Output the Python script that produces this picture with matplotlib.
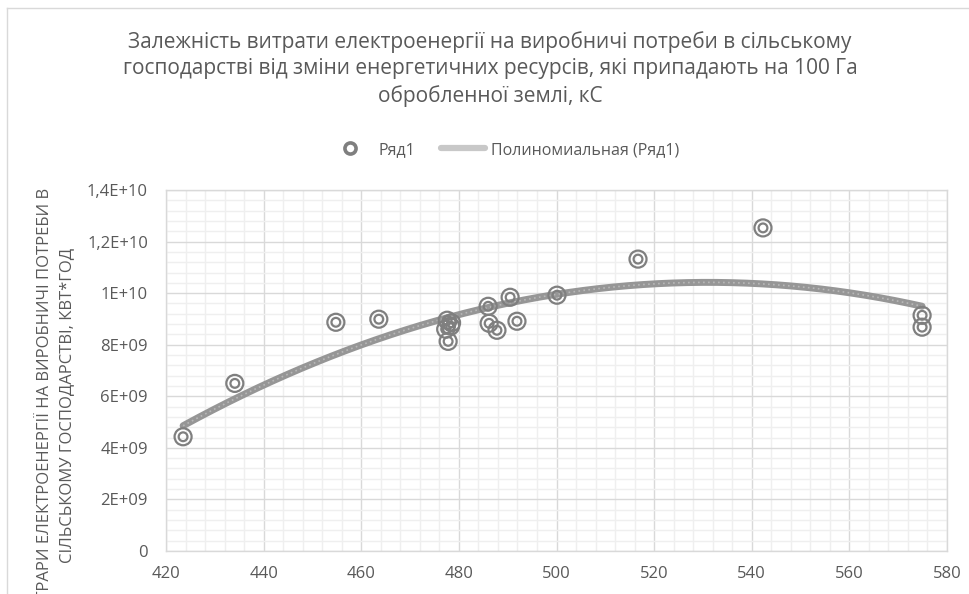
import numpy as np
import matplotlib
matplotlib.use("Agg")
import matplotlib.pyplot as plt
from matplotlib.lines import Line2D
from matplotlib.ticker import MultipleLocator, FixedLocator, FixedFormatter

plt.rcParams['font.family'] = ['Open Sans', 'DejaVu Sans']

# ---- data ----
x_vals = [423.5, 434.1, 454.8, 463.6, 477.3, 477.8, 477.6, 478.3, 478.5,
          486.0, 486.2, 487.8, 490.5, 491.9, 500.1, 516.7, 542.3, 574.9, 574.9]
y_vals = [4.43e9, 6.50e9, 8.87e9, 8.99e9, 8.60e9, 8.13e9, 8.95e9, 8.72e9, 8.85e9,
          9.49e9, 8.83e9, 8.56e9, 9.84e9, 8.91e9, 9.92e9, 11.32e9, 12.53e9, 9.14e9, 8.68e9]

y_ticks = [0, 2e9, 4e9, 6e9, 8e9, 1e10, 1.2e10, 1.4e10]
y_tick_labels = ["0", "2E+09", "4E+09", "6E+09", "8E+09", "1E+10", "1,2E+10", "1,4E+10"]
x_ticks = [420, 440, 460, 480, 500, 520, 540, 560, 580]

title = ("Залежність витрати електроенергії на виробничі потреби в сільському\n"
         "господарстві від зміни енергетичних ресурсів, які припадають на 100 Га\n"
         "обробленної землі, кС")
ylabel = ("ВИТРАРИ ЕЛЕКТРОЕНЕРГІЇ НА ВИРОБНИЧІ ПОТРЕБИ В\n"
          "СІЛЬСЬКОМУ ГОСПОДАРСТВІ, КВТ*ГОД")
series_name = "Ряд1"
trend_name = "Полиномиальная (Ряд1)"

W, H = 970, 594
fig = plt.figure(figsize=(W / 100, H / 100), dpi=100)
fig.patch.set_facecolor('white')

ax = fig.add_axes([166 / W, 1 - 551 / H, (947 - 166) / W, (551 - 190) / H])

txt_col = '#595959'
mk_col = '#7f7f7f'

# polynomial trendline (2nd order)
xa = np.array(x_vals)
ya = np.array(y_vals)
coef = np.polyfit(xa, ya, 2)
xs = np.linspace(xa.min(), xa.max(), 300)
ys = np.polyval(coef, xs)
ax.plot(xs, ys, color='#969696', lw=5, solid_capstyle='round', zorder=3)
ax.plot(xs, ys, color='#b8b8b8', lw=1.2, ls=(0, (1, 2)), zorder=3.1)

# double-circle markers
ax.scatter(xa, ya, s=150, facecolors='none', edgecolors=mk_col, linewidths=1.6, zorder=4)
ax.scatter(xa, ya, s=40, facecolors='none', edgecolors=mk_col, linewidths=1.6, zorder=4)

ax.set_xlim(420, 580)
ax.set_ylim(0, 1.4e10)
ax.xaxis.set_major_locator(FixedLocator(x_ticks))
ax.xaxis.set_minor_locator(MultipleLocator(4))
ax.yaxis.set_major_locator(FixedLocator(y_ticks))
ax.yaxis.set_major_formatter(FixedFormatter(y_tick_labels))
ax.yaxis.set_minor_locator(MultipleLocator(4e8))

ax.grid(which='major', color='#d9d9d9', lw=1.0, zorder=0)
ax.grid(which='minor', color='#efefef', lw=1.0, zorder=0)
ax.set_axisbelow(True)
for s in ax.spines.values():
    s.set_color('#d9d9d9')
    s.set_linewidth(1.0)
ax.tick_params(which='both', length=0, colors=txt_col, labelsize=12)
ax.tick_params(axis='x', pad=11)
ax.tick_params(axis='y', pad=13)

# title
fig.text(490 / W, 1 - 69 / H, title, ha='center', va='center', fontsize=15,
         color=txt_col, linespacing=1.35)

# y label (partly clipped by the figure edge as in the reference)
fig.text(56 / W, 1 - 405 / H, ylabel, rotation=90, ha='center', va='center',
         multialignment='center', fontsize=12, color=txt_col, linespacing=1.45)

# legend
h1 = Line2D([], [], marker='o', ls='none', markersize=8, markerfacecolor='white',
            markeredgecolor=mk_col, markeredgewidth=2.6)
h2 = Line2D([], [], color='#c8c8c8', lw=4.5, solid_capstyle='round')
fig.legend([h1, h2], [series_name, trend_name], loc='center left',
           bbox_to_anchor=(320 / W, 1 - 150 / H), ncol=2, frameon=False, borderpad=0,
           fontsize=11.5, labelcolor=txt_col, handlelength=2.75, columnspacing=1.6,
           handletextpad=0.4)

# chart border
fig.add_artist(Line2D([7 / W, 1], [1 - 8 / H, 1 - 8 / H], color='#d9d9d9', lw=1))
fig.add_artist(Line2D([7 / W, 7 / W], [0, 1 - 8 / H], color='#d9d9d9', lw=1))

fig.savefig('out.png', dpi=100, facecolor='white')
